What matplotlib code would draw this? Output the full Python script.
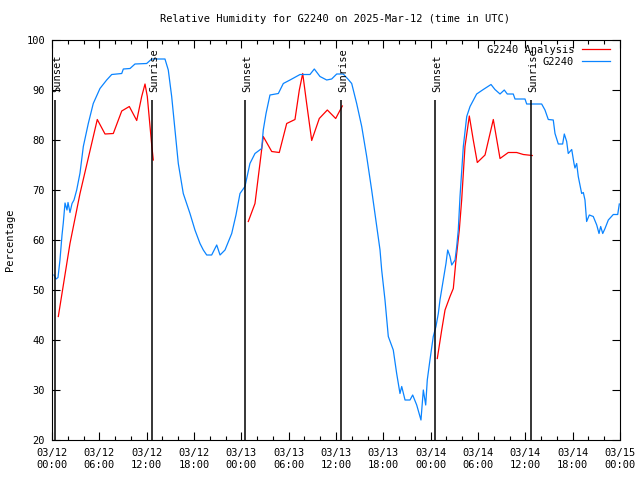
"""Relative humidity for G2240 (station vs analysis), gnuplot-style chart."""

import matplotlib
matplotlib.use("Agg")
import matplotlib.dates as mdates
import matplotlib.pyplot as plt
import matplotlib.transforms as mtransforms
import numpy as np
import pandas as pd

START = pd.Timestamp("2025-03-12 00:00")
END = pd.Timestamp("2025-03-15 00:00")

# hours since 03/12 00:00 UTC, observed RH (%)
obs_hours = [
    0.25, 0.51, 0.76, 1.01, 1.27, 1.43, 1.65, 1.90, 2.03, 2.28, 2.54, 2.79,
    3.13, 3.55, 3.97, 4.60, 5.23, 6.08, 6.93, 7.57, 8.84, 9.04, 9.89, 10.52,
    12.00, 12.64, 14.32, 14.74, 15.17, 15.59, 16.01, 16.64, 17.49, 18.12,
    18.76, 19.18, 19.61, 20.24, 20.88, 21.30, 21.93, 22.78, 23.32, 23.83,
    24.46, 25.09, 25.73, 26.58, 26.78, 27.13, 27.63, 28.69, 29.32, 30.17,
    31.44, 32.70, 33.25, 33.97, 34.82, 35.45, 36.09, 36.92, 37.56, 37.99,
    38.62, 39.26, 39.89, 40.52, 41.16, 41.58, 41.79, 42.21, 42.63, 43.26,
    43.69, 44.11, 44.33, 44.75, 45.38, 45.72, 46.23, 46.77, 47.07, 47.37,
    47.57, 47.91, 48.33, 48.67, 48.97, 49.18, 49.60, 49.94, 50.16, 50.45,
    50.67, 51.09, 51.30, 51.50, 51.72, 52.14, 52.57, 52.99, 53.83, 54.67,
    55.65, 56.15, 56.79, 57.33, 57.71, 58.47, 58.69, 59.96, 60.17, 62.07,
    62.49, 62.91, 63.54, 63.76, 64.18, 64.73, 64.94, 65.24, 65.44, 65.88,
    66.17, 66.29, 66.51, 66.71, 67.14, 67.35, 67.56, 67.77, 68.11, 68.61,
    69.05, 69.34, 69.55, 69.81, 70.10, 70.52, 71.15, 71.71, 71.91,
]
obs_rh = [
    53.0, 52.2, 52.5, 56.0, 61.0, 63.4, 67.4, 66.0, 67.5, 65.5, 67.3, 68.0,
    70.0, 73.4, 78.7, 83.3, 87.3, 90.3, 92.0, 93.1, 93.3, 94.2, 94.3, 95.2,
    95.3, 96.2, 96.2, 94.0, 88.7, 82.0, 75.3, 69.3, 65.3, 62.0,
    59.3, 58.0, 57.0, 57.0, 59.0, 57.0, 58.0, 61.3, 65.0, 69.3,
    70.7, 75.3, 77.3, 78.3, 82.0, 85.3, 89.0, 89.3, 91.3, 92.0,
    93.1, 93.1, 94.2, 92.7, 92.0, 92.2, 93.2, 93.2, 92.1, 91.3,
    87.3, 82.7, 76.7, 70.0, 62.7, 58.0, 54.0, 48.0, 40.7, 38.0,
    33.3, 29.3, 30.7, 28.0, 28.0, 29.0, 27.0, 24.0, 30.0, 27.0,
    32.0, 36.0, 40.7, 42.7, 45.3, 48.0, 52.0, 55.3, 58.0, 56.7,
    55.0, 56.0, 58.7, 62.0, 68.7, 78.7, 84.7, 86.7, 89.2, 90.1,
    91.1, 90.1, 89.2, 90.0, 89.2, 89.2, 88.2, 88.2, 87.2, 87.2,
    86.0, 84.1, 84.0, 81.3, 79.2, 79.2, 81.2, 79.7, 77.3, 78.1,
    75.3, 74.4, 75.3, 72.7, 69.3, 69.5, 68.0, 63.7, 65.0, 64.7,
    63.0, 61.3, 62.7, 61.3, 62.3, 64.0, 65.1, 65.1, 67.2,
]

# analysis RH, NaN marks the gaps between daytime segments
ana_hours = [
    0.80, 2.28, 3.55, 5.03, 5.74, 6.72, 7.77, 8.84, 9.80, 10.74, 11.37,
    11.79, 12.08, 12.64, 12.84, 18.0,
    24.88, 25.73, 26.36, 26.78, 27.85, 28.81, 29.75, 30.80, 31.35, 31.78,
    32.28, 32.92, 33.88, 34.90, 35.96, 36.80, 42.0,
    48.84, 49.40, 49.82, 50.45, 50.87, 51.21, 51.63, 51.93, 52.35, 52.90,
    53.40, 53.91, 54.89, 55.94, 56.79, 57.84, 58.90, 59.74, 60.88,
]
ana_rh = [
    44.7, 59.3, 69.3, 79.3, 84.1, 81.2, 81.3, 85.8, 86.7, 83.9, 88.7,
    91.2, 88.7, 79.0, 76.0, np.nan,
    63.7, 67.3, 75.3, 80.7, 77.7, 77.5, 83.3, 84.1, 90.0, 93.3,
    87.3, 79.9, 84.3, 86.0, 84.3, 86.8, np.nan,
    36.3, 42.0, 46.0, 48.7, 50.3, 56.0, 62.0, 68.0, 78.7, 84.8,
    80.0, 75.5, 77.0, 84.1, 76.3, 77.5, 77.5, 77.1, 76.9,
]

sun_hours = [0.42, 12.72, 24.50, 36.67, 48.60, 60.76]
sun_labels = ["Sunset", "Sunrise", "Sunset", "Sunrise", "Sunset", "Sunrise"]
SUN_LINE_TOP = 88
SUN_TEXT_BASE = 89.6


def to_time(hours):
    return START + pd.to_timedelta(np.asarray(hours, dtype=float), unit="h")


FONT = "DejaVu Sans Mono"
plt.rcParams.update({
    "font.family": FONT,
    "font.size": 7.5,
    "axes.linewidth": 0.8,
})

fig = plt.figure(figsize=(6.4, 4.8), dpi=100)
ax = fig.add_axes([52 / 640, 40 / 480, 568 / 640, 400 / 480])

ax.plot(to_time(ana_hours), ana_rh, color="#ff0000", linewidth=0.9,
        label="G2240 Analysis")
ax.plot(to_time(obs_hours), obs_rh, color="#0a84ff", linewidth=0.9,
        label="G2240")

text_shift = mtransforms.offset_copy(ax.transData, fig=fig, x=1.5, y=0,
                                     units="dots")
for t, name in zip(to_time(sun_hours), sun_labels):
    ax.vlines(t, 20, SUN_LINE_TOP, color="black", linewidth=1.1, zorder=3)
    ax.text(t, SUN_TEXT_BASE, name, rotation=90, ha="center", va="bottom",
            transform=text_shift, fontsize=7.5)

ax.set_xlim(START, END)
ax.set_ylim(20, 100)
ax.set_yticks(np.arange(20, 101, 10))
ax.xaxis.set_major_locator(mdates.HourLocator(byhour=range(0, 24, 6)))
ax.xaxis.set_minor_locator(mdates.HourLocator(byhour=range(0, 24, 2)))
ax.xaxis.set_major_formatter(mdates.DateFormatter("%m/%d\n%H:%M"))
ax.tick_params(which="both", direction="in", top=True, right=True,
               width=0.8, colors="black")
ax.tick_params(which="major", length=6)
ax.tick_params(which="minor", length=3)
ax.tick_params(axis="x", which="major", pad=6)
ax.tick_params(axis="y", which="major", pad=5)
for lab in ax.get_xticklabels():
    lab.set_linespacing(1.25)

ax.set_ylabel("Percentage")
ax.yaxis.set_label_coords(-0.065, 0.5)

fig.text(335 / 640, 1 - 19 / 480,
         "Relative Humidity for G2240 on 2025-Mar-12 (time in UTC)",
         ha="center", va="center", fontsize=7.5)

ax.legend(loc="upper right", bbox_to_anchor=(0.9824, 0.9875),
          markerfirst=False, frameon=False, borderpad=0, borderaxespad=0,
          handlelength=2.7, handletextpad=0.75, labelspacing=0.15)

fig.savefig("out.png", dpi=100, facecolor="white")
